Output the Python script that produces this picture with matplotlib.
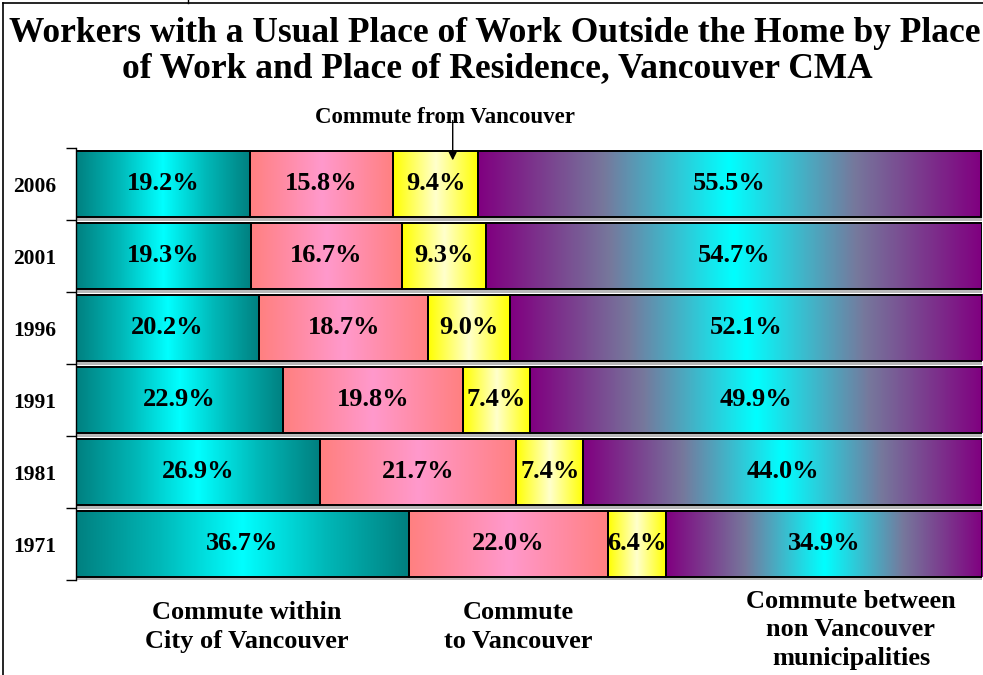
import numpy as np
import matplotlib
matplotlib.use("Agg")
import matplotlib.pyplot as plt
from matplotlib.colors import to_rgb
from matplotlib.lines import Line2D

# data, top row first
years = ["2006", "2001", "1996", "1991", "1981", "1971"]
within_city = [19.2, 19.3, 20.2, 22.9, 26.9, 36.7]
to_vancouver = [15.8, 16.7, 18.7, 19.8, 21.7, 22.0]
from_vancouver = [9.4, 9.3, 9.0, 7.4, 7.4, 6.4]
between_munis = [55.5, 54.7, 52.1, 49.9, 44.0, 34.9]

series = [within_city, to_vancouver, from_vancouver, between_munis]
# colour stops of the horizontal gradient, from the segment edge to its middle
fills = [["#008080", "#00B8B8", "#00FFFF"],
         ["#FF8080", "#FF8CA6", "#FF99CC"],
         ["#FFFF00", "#FFFF66", "#FFFFCC"],
         ["#800080", "#76789C", "#00FFFF"]]

plt.rcParams["font.family"] = ["Liberation Serif", "DejaVu Serif"]
plt.rcParams["font.weight"] = "bold"


def gradient(stops, n=256):
    cols = np.array([to_rgb(c) for c in stops])
    pos = np.linspace(1, 0, len(stops))[::-1]          # 0 = middle, 1 = edge
    t = np.abs(np.linspace(-1, 1, n))
    rgb = np.stack([np.interp(t, pos, cols[::-1, k]) for k in range(3)], axis=1)
    return rgb[None, :, :]


fig = plt.figure(figsize=(9.83, 6.75), dpi=100)
ax = fig.add_axes([76 / 983, 1 - 580 / 675, 906 / 983, 432 / 675])

h = 0.92
ypos = np.arange(len(years))[::-1]

for i, y in enumerate(ypos):
    left = 0.0
    # thin shadow under each bar
    ax.barh(y - 0.05, 100, height=h, color="#b8b8b8", zorder=1)
    for vals, stops in zip(series, fills):
        w = vals[i]
        ax.imshow(gradient(stops), extent=(left, left + w, y - h / 2, y + h / 2),
                  aspect="auto", interpolation="bilinear", zorder=2)
        ax.barh(y, w, left=left, height=h, fill=False, edgecolor="black",
                linewidth=1.4, zorder=3)
        ax.text(left + w / 2, y, f"{w:.1f}%", ha="center", va="center",
                fontsize=19, fontweight="bold", zorder=4)
        left += w

ax.set_xlim(0, 100)
ax.set_ylim(-0.5, len(years) - 0.5)

ax.set_xticks([])
ax.set_yticks(ypos)
ax.set_yticklabels(years, fontsize=15.5, fontweight="bold")
ax.tick_params(axis="y", which="major", length=0, pad=14)
ax.set_yticks(np.arange(-0.5, len(years)), minor=True)
ax.tick_params(axis="y", which="minor", length=7, width=1, direction="out")
for s in ["top", "right", "bottom"]:
    ax.spines[s].set_visible(False)
ax.spines["left"].set_linewidth(1)

# "Commute from Vancouver" callout on the 2006 bar
arrow_x = within_city[0] + to_vancouver[0] + 0.7 * from_vancouver[0]
ax.annotate("", xy=(arrow_x, 5.29), xytext=(arrow_x, 5.92),
            arrowprops=dict(arrowstyle="-|>", color="black", lw=1, mutation_scale=12),
            annotation_clip=False)
ax.text(40.7, 5.92, "Commute from Vancouver", ha="center", va="center",
        fontsize=16.5, fontweight="bold", clip_on=False)

fig.text(495 / 983, 1 - 33 / 675, "Workers with a Usual Place of Work Outside the Home by Place",
         ha="center", va="center", fontsize=25.5, fontweight="bold")
fig.text(497 / 983, 1 - 69 / 675, "of Work and Place of Residence, Vancouver CMA",
         ha="center", va="center", fontsize=25.5, fontweight="bold")

fig.text(247 / 983, 1 - 627 / 675, "Commute within\nCity of Vancouver",
         ha="center", va="center", fontsize=19, fontweight="bold", linespacing=1.33)
fig.text(518 / 983, 1 - 627 / 675, "Commute\nto Vancouver",
         ha="center", va="center", fontsize=19, fontweight="bold", linespacing=1.33)
fig.text(851 / 983, 1 - 630 / 675, "Commute between\nnon Vancouver\nmunicipalities",
         ha="center", va="center", fontsize=19, fontweight="bold", linespacing=1.3)

# frame lines of the original slide
fig.add_artist(Line2D([2.5 / 983, 2.5 / 983], [0, 1 - 2.5 / 675], color="black", lw=1.2))
fig.add_artist(Line2D([2.5 / 983, 1], [1 - 2.5 / 675, 1 - 2.5 / 675], color="black", lw=1.2))
fig.add_artist(Line2D([188 / 983, 188 / 983], [1 - 2.5 / 675, 1], color="black", lw=1))

fig.savefig("out.png", dpi=100)
